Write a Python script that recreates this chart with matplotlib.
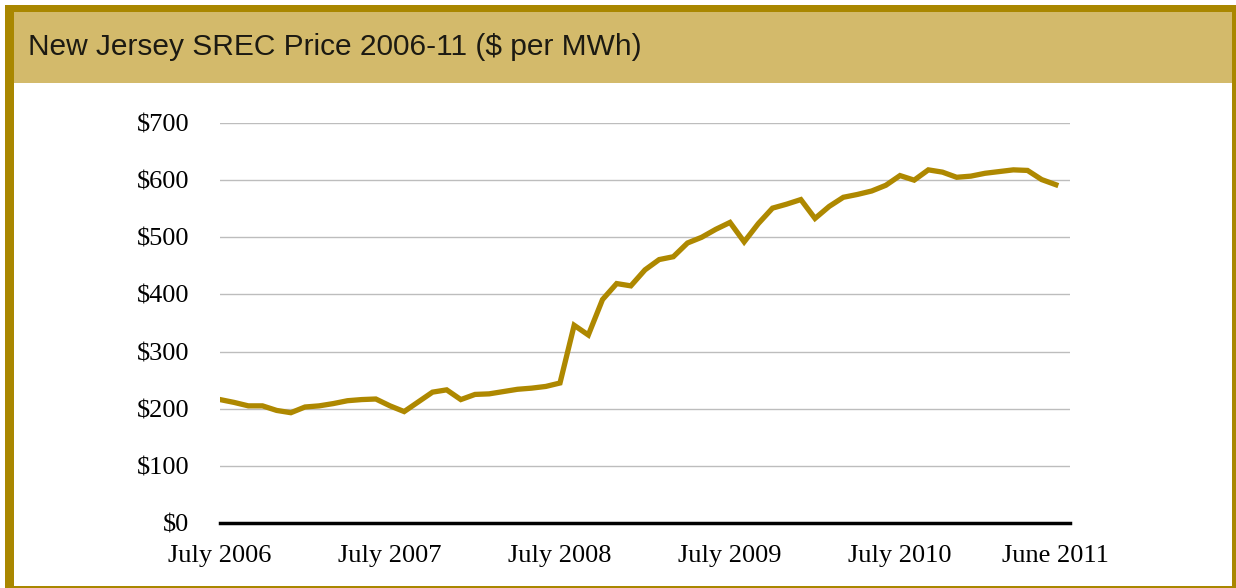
import matplotlib.pyplot as plt
from matplotlib.patches import Rectangle

# monthly NJ SREC price, July 2006 .. June 2011 ($ per MWh)
prices = [
    216, 211, 205, 205, 197, 193, 203, 205, 209, 214, 216, 217,
    205, 195, 212, 229, 233, 216, 225, 226, 230, 234, 236, 239,
    245, 346, 329, 391, 419, 415, 443, 461, 466, 490, 500, 514,
    526, 492, 524, 551, 558, 566, 533, 554, 570, 575, 581, 591,
    608, 600, 618, 614, 605, 607, 612, 615, 618, 617, 601, 592,
]
tick_pos = [0, 12, 24, 36, 48, 59]
tick_labels = ["July 2006", "July 2007", "July 2008", "July 2009", "July 2010", "June 2011"]
y_ticks = [0, 100, 200, 300, 400, 500, 600, 700]

W, H = 1236, 588
GOLD = "#A98700"
BAND = "#D3BA6B"
LINE = "#AE8800"


def px_rect(x0, y0, x1, y1, color):
    # rectangle given in image pixels (origin top-left)
    return Rectangle((x0 / W, 1 - y1 / H), (x1 - x0) / W, (y1 - y0) / H,
                     transform=fig.transFigure, facecolor=color,
                     edgecolor="none", zorder=-10)


fig = plt.figure(figsize=(W / 100, H / 100), dpi=100)
fig.patches.append(px_rect(5, 5, W, H, GOLD))
fig.patches.append(px_rect(14, 12, 1232, 586, "white"))
fig.patches.append(px_rect(14, 12, 1232, 83, BAND))

fig.text(28 / W, 1 - 47 / H, "New Jersey SREC Price 2006-11 ($ per MWh)",
         family="Liberation Sans", fontsize=21.5, color="#1c1a12",
         ha="left", va="center")

ax = fig.add_axes([220 / W, 1 - 523 / H, 850 / W, 400 / H])
ax.plot(range(len(prices)), prices, color=LINE, linewidth=3.8,
        solid_joinstyle="miter", zorder=3)

ax.set_xlim(0, 60)
ax.set_ylim(0, 700)
ax.set_yticks(y_ticks)
ax.set_yticklabels([f"${v}" for v in y_ticks])
ax.set_xticks(tick_pos)
ax.set_xticklabels(tick_labels)

for lab in ax.get_xticklabels() + ax.get_yticklabels():
    lab.set_family("Liberation Serif")
    lab.set_fontsize(19)
    lab.set_color("black")

ax.tick_params(axis="both", length=0)
ax.tick_params(axis="y", pad=22)
ax.tick_params(axis="x", pad=16)

ax.grid(axis="y", color="#BDBDBD", linewidth=1.0)
ax.set_axisbelow(True)
for side in ["left", "right", "top"]:
    ax.spines[side].set_visible(False)
ax.spines["bottom"].set_linewidth(2.5)
ax.spines["bottom"].set_color("black")
ax.spines["bottom"].set_zorder(4)
ax.patch.set_alpha(0)

fig.savefig("out.png", dpi=100)
